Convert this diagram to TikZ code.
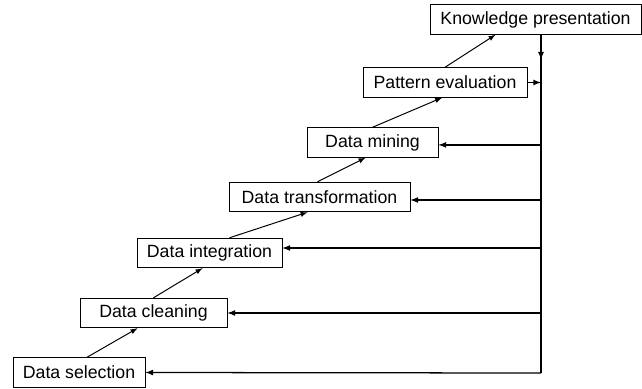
\documentclass[tikz,border=0pt]{standalone}
\usepackage{fontspec}
\setmainfont{Liberation Sans}
\begin{document}
\begin{tikzpicture}[x=0.025cm,y=-0.025cm,>=latex,
    stepbox/.style={draw,line width=0.6pt,minimum height=0.74cm,inner sep=0pt,
      font=\fontsize{12.6}{15}\selectfont},
    feed/.style={->,line width=0.9pt}]
    \useasboundingbox (0,0) rectangle (642,388);

    % Process steps (bottom to top)
    \node[stepbox,minimum width=3.3cm] (sel) at (79,372.5) {Data selection};
    \node[stepbox,minimum width=3.675cm] (clean) at (153.5,313) {Data cleaning};
    \node[stepbox,minimum width=3.625cm] (integ) at (209.5,253) {Data integration};
    \node[stepbox,minimum width=4.525cm] (trans) at (319.5,197) {Data transformation};
    \node[stepbox,minimum width=3.275cm] (mine) at (372.5,142.5) {Data mining};
    \node[stepbox,minimum width=4.1cm] (patt) at (445,82.5) {Pattern evaluation};
    \node[stepbox,minimum width=5.275cm] (know) at (535.5,19.5) {Knowledge presentation};

    % Step to step
    \draw[->,line width=0.7pt] ([xshift=0.2cm]sel.north) -- ([xshift=-0.4cm]clean.south);
    \draw[->,line width=0.7pt] (clean.north) -- ([xshift=-0.175cm]integ.south);
    \draw[->,line width=0.7pt] ([xshift=0.5cm]integ.north) -- ([xshift=-0.3cm]trans.south);
    \draw[->,line width=0.7pt] ([xshift=-0.05cm]trans.north) -- ([xshift=-0.175cm]mine.south);
    \draw[->,line width=0.7pt] (mine.north) -- ([xshift=-0.075cm]patt.south);
    \draw[->,line width=0.7pt] (patt.north) -- ([xshift=-1cm]know.south);

    % Feedback line
    \coordinate (spine) at (541,373);
    \draw[line width=0.9pt] (know.south -| spine) -- (spine);
    \draw[feed] (know.south -| spine) -- ++(0,25);
    \draw[feed] (patt.east) -- (patt.east -| spine);
    \draw[feed] ([yshift=-0.06cm]mine.east -| spine) -- ([yshift=-0.06cm]mine.east);
    \draw[feed] ([yshift=-0.075cm]trans.east -| spine) -- ([yshift=-0.075cm]trans.east);
    \draw[feed] ([yshift=0.125cm]integ.east -| spine) -- ([yshift=0.125cm]integ.east);
    \draw[feed] (clean.east -| spine) -- (clean.east);
    \draw[feed] (spine) -- (sel.east);
\end{tikzpicture}
\end{document}
